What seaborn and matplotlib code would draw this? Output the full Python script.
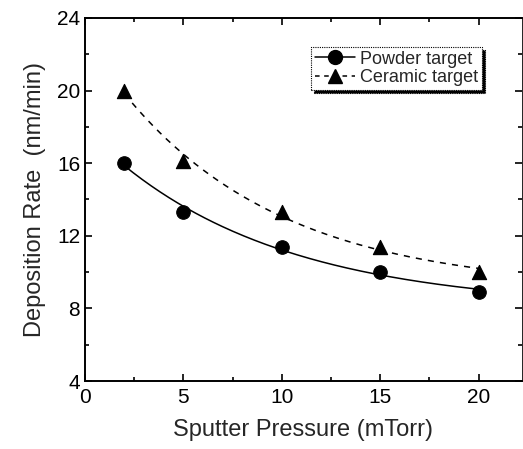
import numpy as np
import matplotlib
matplotlib.use("Agg")
import matplotlib.pyplot as plt
import seaborn as sns
import pandas as pd
from matplotlib.lines import Line2D
from matplotlib.ticker import MultipleLocator

pressure = [2, 5, 10, 15, 20]
powder_rate = [16.0, 13.3, 11.4, 10.0, 8.9]
ceramic_rate = [20.0, 16.1, 13.3, 11.4, 10.0]
series_names = ["Powder target", "Ceramic target"]

sns.set_theme(style="ticks")
plt.rcParams['font.family'] = ['Liberation Sans', 'DejaVu Sans']


def exp_fit(x, y):
    # fit y = y0 + A*exp(-x/t) via grid search on t, linear LSQ for y0, A
    x = np.asarray(x, float)
    y = np.asarray(y, float)
    best = None
    for t in np.linspace(0.5, 60, 2000):
        M = np.column_stack([np.ones_like(x), np.exp(-x / t)])
        coef, *_ = np.linalg.lstsq(M, y, rcond=None)
        r = np.sum((M @ coef - y) ** 2)
        if best is None or r < best[0]:
            best = (r, t, coef)
    _, t, coef = best
    xs = np.linspace(x.min(), x.max(), 200)
    return xs, coef[0] + coef[1] * np.exp(-xs / t)


fig = plt.figure(figsize=(5.23, 4.49), dpi=100)
ax = fig.add_axes([0.1625, 0.1514, 0.8355, 0.8086])

xs_p, ys_p = exp_fit(pressure, powder_rate)
xs_c, ys_c = exp_fit(pressure, ceramic_rate)

sns.lineplot(x=xs_p, y=ys_p, ax=ax, color="black", lw=1.1, linestyle="-")
sns.lineplot(x=xs_c, y=ys_c, ax=ax, color="black", lw=1.1, linestyle=(0, (4, 4)))
sns.scatterplot(x=pressure, y=powder_rate, ax=ax, color="black", marker="o", s=95, edgecolor="black", zorder=3)
sns.scatterplot(x=pressure, y=ceramic_rate, ax=ax, color="black", marker="^", s=105, edgecolor="black", zorder=3)

ax.set_xlim(0, 22.2)
ax.set_ylim(4, 24)
ax.xaxis.set_major_locator(MultipleLocator(5))
ax.xaxis.set_minor_locator(MultipleLocator(2.5))
ax.yaxis.set_major_locator(MultipleLocator(4))
ax.yaxis.set_minor_locator(MultipleLocator(2))
ax.tick_params(which="both", direction="in", top=True, right=True, colors="black", labelsize=15, width=1.2)
ax.tick_params(which="major", length=5)
ax.tick_params(which="minor", length=3)
ax.tick_params(axis="x", pad=5)
for side, sp in ax.spines.items():
    sp.set_linewidth(1.4)
    sp.set_color("black")
ax.spines["right"].set_linewidth(0.6)

ax.set_xlabel("Sputter Pressure (mTorr)", fontsize=17, labelpad=9)
ax.set_ylabel("Deposition Rate  (nm/min)", fontsize=17, labelpad=8)

handles = [
    Line2D([0], [0], color="black", lw=1.1, ls="-", marker="o", markersize=10),
    Line2D([0], [0], color="black", lw=1.1, ls=(0, (3, 3)), marker="^", markersize=10),
]
leg = ax.legend(handles, series_names, loc="upper right", bbox_to_anchor=(0.908, 0.92),
                fontsize=13, frameon=True, fancybox=False,
                shadow={"color": "black", "alpha": 1.0},
                handlelength=2.2, handletextpad=0.3, borderpad=0.2, labelspacing=0.1,
                borderaxespad=0, framealpha=1)
leg.get_frame().set_edgecolor("black")
leg.get_frame().set_linewidth(0.8)
leg.get_frame().set_linestyle((0, (1, 1)))

fig.savefig("out.png", dpi=100)
